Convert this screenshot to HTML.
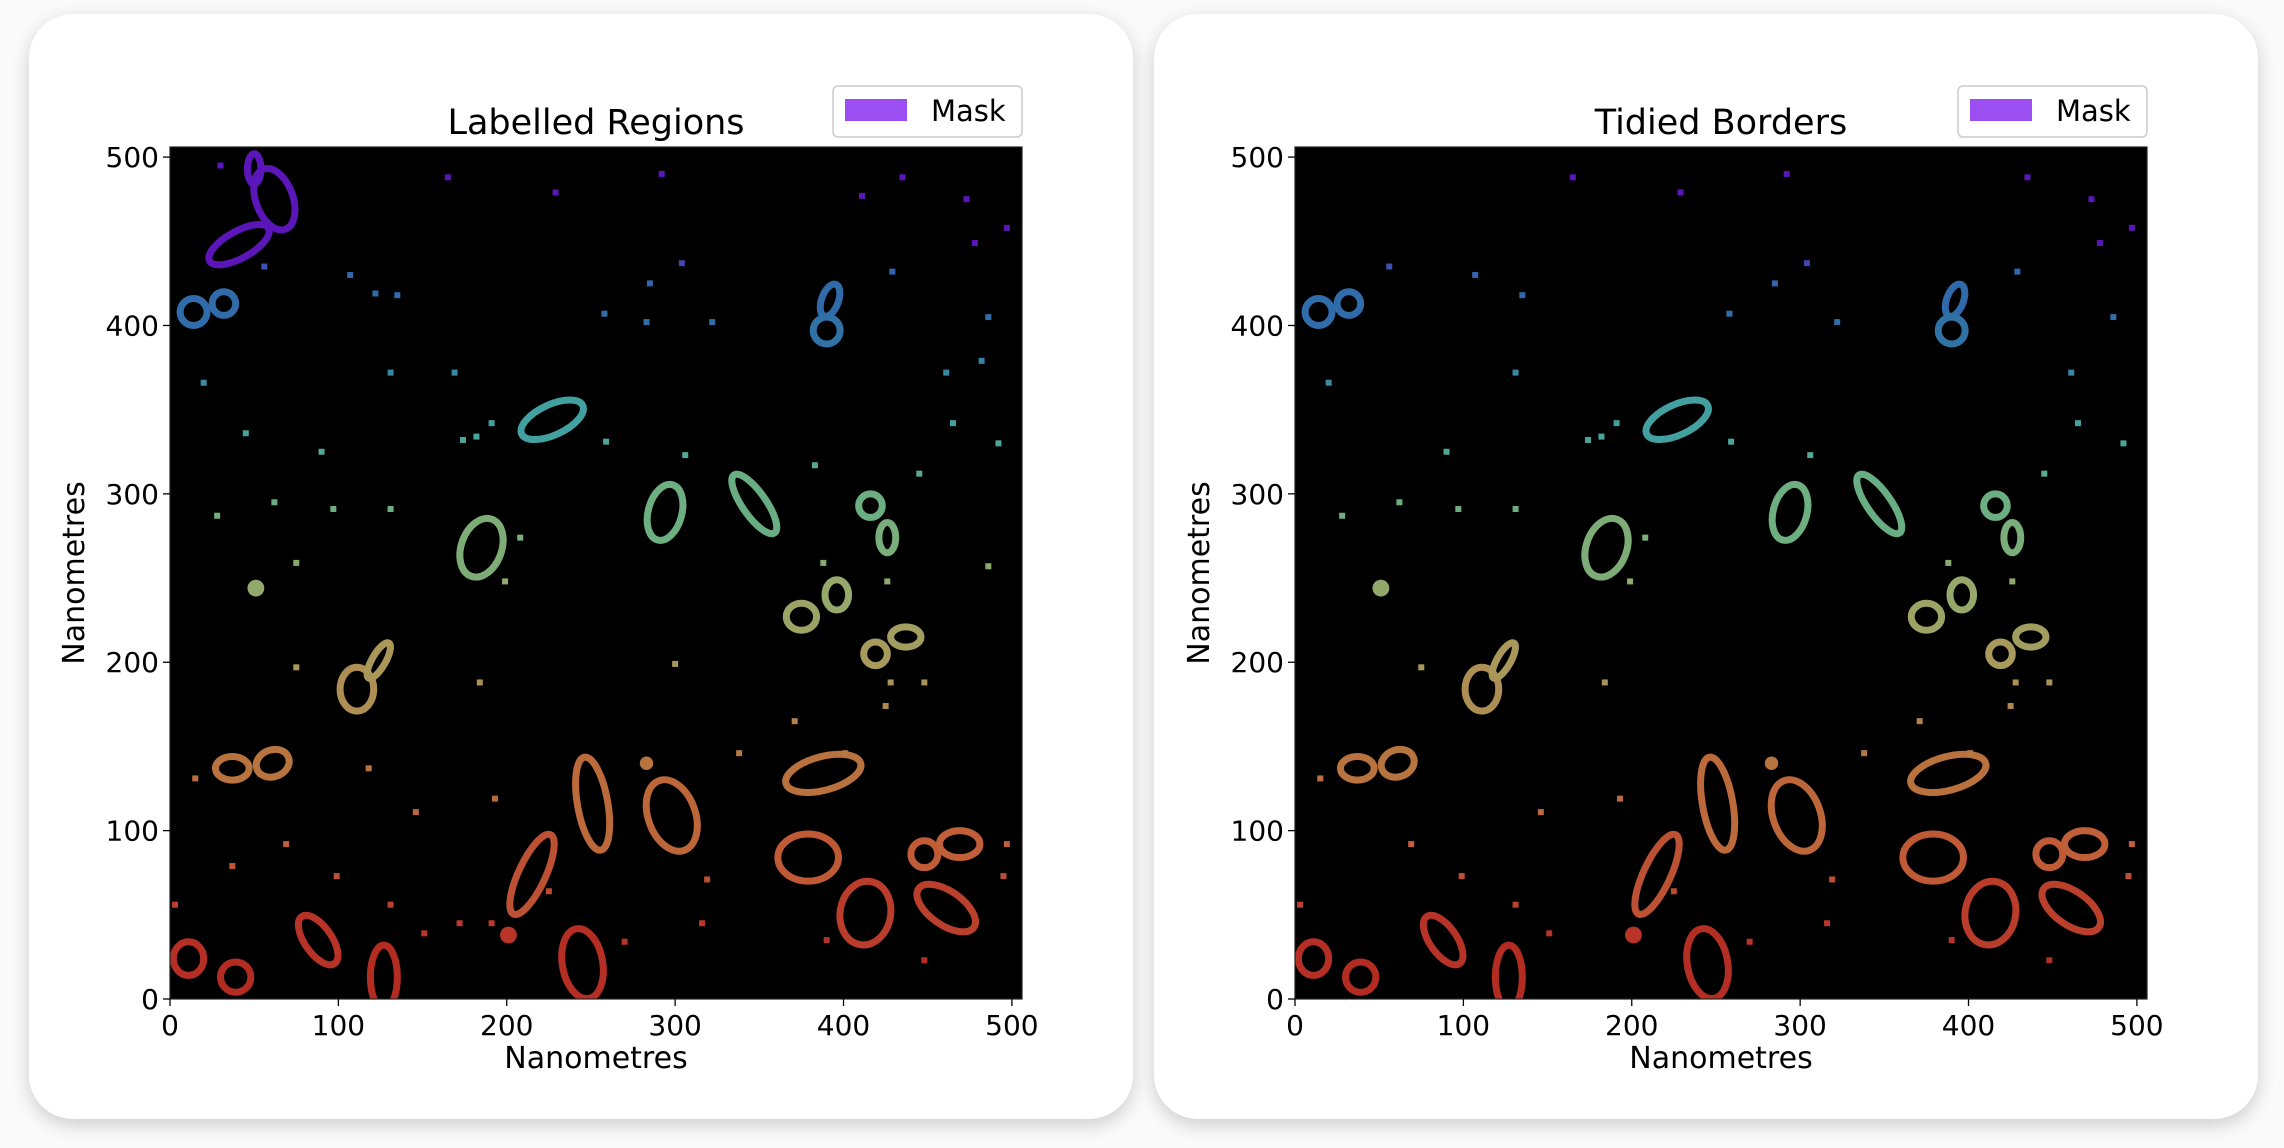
<!DOCTYPE html>
<html><head><meta charset="utf-8"><style>
html,body{margin:0;padding:0;background:#fafafa;width:2284px;height:1148px;overflow:hidden;font-family:"DejaVu Sans","Liberation Sans",sans-serif;}
.card{position:absolute;top:14px;width:1104px;height:1105px;background:#fff;border-radius:44px;box-shadow:0 6px 18px rgba(0,0,0,0.18);}
svg{position:absolute;left:0;top:0}
</style></head><body>
<div class="card" style="left:29px"></div>
<div class="card" style="left:1154px"></div>
<svg id="chart" width="2284" height="1148"></svg>
<script>
// ring loops: [x nm, y nm, rx nm, ry nm, rotation deg]
const loopsX=[62,41,50,14,32,392,390,227,294,347,416,426,185,375,396,419,437,111,124,37,61,251,298,388,379,448,469,215,413,461,88,11,39,127,245];
const loopsY=[475,448,493,408,413,415,397,344,289,294,293,274,268,227,240,205,215,184,201,137,140,116,109,134,84,86,92,74,51,54,35,24,13,13,21];
const loopsRX=[11,20,4,8,7,5,8,20,10,7,7,5,12,9,7,7,9,10,4,10,10,9,14,23,18,8,12,8,15,20,8,9,9,8,12];
const loopsRY=[19,8,9,8,7,10,8,9,17,21,7,9,18,8,9,7,6,13,12,7,8,28,22,10,14,8,8,26,19,10,17,10,9,19,21];
const loopsRot=[-20,-29,0,0,0,20,0,-25,15,-35,0,0,20,0,0,0,0,0,30,0,-20,-10,-20,-15,0,0,0,25,10,35,-35,0,0,0,-10];
// filled blobs
const blobsX=[51,201,283];
const blobsY=[244,38,140];
const blobsR=[5,5,4];
// small specks
const specksX=[30,165,229,292,435,411,473,497,56,107,122,135,304,285,258,283,322,429,478,486,482,461,465,20,131,169,191,259,492,62,45,90,174,182,306,383,445,28,97,131,75,199,208,388,426,486,428,448,75,184,300,371,425,401,338,118,15,193,146,69,37,99,319,316,151,191,225,448,270,390,172,497,495,3,131];
const specksY=[495,488,479,490,488,477,475,458,435,430,419,418,437,425,407,402,402,432,449,405,379,372,342,366,372,372,342,331,330,295,336,325,332,334,323,317,312,287,291,291,259,248,274,259,248,257,188,188,197,188,199,165,174,146,146,137,131,119,111,92,79,73,71,45,39,45,64,23,34,35,45,92,73,56,56];
const xTicks=[0,100,200,300,400,500];
const yTicks=[0,100,200,300,400,500];
const NS='http://www.w3.org/2000/svg';
const svg=document.getElementById('chart');
const stops=[[0,[176,40,30]],[40,[184,52,40]],[90,[192,94,56]],[140,[184,116,62]],[200,[169,152,90]],[240,[150,168,106]],[290,[108,175,128]],[340,[68,163,160]],[400,[47,111,166]],[432,[50,100,176]],[445,[90,22,184]],[510,[90,22,184]]];
function col(v){for(let i=0;i<stops.length-1;i++){const a=stops[i],b=stops[i+1];if(v<=b[0]){const t=Math.max(0,(v-a[0])/(b[0]-a[0]));return 'rgb('+a[1].map((c,k)=>Math.round(c+(b[1][k]-c)*t)).join(',')+')';}}return 'rgb(90,22,184)';}
function mk(tag,attrs,parent){const e=document.createElementNS(NS,tag);for(const k in attrs)e.setAttribute(k,attrs[k]);(parent||svg).appendChild(e);return e;}
function panel(L,title,tidy,pname){
  const T=147,S=852/506;
  const x=v=>L+v*S, y=v=>T+852-v*S;
  const g=mk('g',{});
  
  
  const bg=mk('rect',{x:L,y:T,width:852,height:852,fill:'#000'},g);
  
  
  const cp='clip'+L;const d=mk('clipPath',{id:cp},g);mk('rect',{x:L,y:T,width:852,height:852},d);
  const marks=mk('g',{'clip-path':'url(#'+cp+')'},g);
  for(let i=0;i<loopsX.length;i++){
    if(tidy&&i<3)continue;
    const e=mk('ellipse',{cx:x(loopsX[i]),cy:y(loopsY[i]),rx:loopsRX[i]*S,ry:loopsRY[i]*S,transform:'rotate('+loopsRot[i]+' '+x(loopsX[i])+' '+y(loopsY[i])+')',fill:'none',stroke:col(loopsY[i]),'stroke-width':7},marks);
    
    
  }
  for(let i=0;i<blobsX.length;i++){
    const e=mk('circle',{cx:x(blobsX[i]),cy:y(blobsY[i]),r:blobsR[i]*S,fill:col(blobsY[i])},marks);
    
    
  }
  for(let i=0;i<specksX.length;i++){
    if(tidy&&i%5===0)continue;
    const e=mk('rect',{x:x(specksX[i])-3,y:y(specksY[i])-3,width:6,height:6,fill:col(specksY[i])},marks);
    
    
  }
  mk('rect',{x:L,y:T,width:852,height:852,fill:'none',stroke:'#222','stroke-width':1.2},g);
  xTicks.forEach(v=>{mk('line',{x1:x(v),x2:x(v),y1:T+852,y2:T+859,stroke:'#000','stroke-width':1.3},g);
    const t=mk('text',{x:x(v),y:1035,'text-anchor':'middle','font-size':28,fill:'#000'},g);t.textContent=v;
    
    });
  yTicks.forEach(v=>{mk('line',{x1:L-7,x2:L,y1:y(v),y2:y(v),stroke:'#000','stroke-width':1.3},g);
    const t=mk('text',{x:L-11,y:y(v)+10,'text-anchor':'end','font-size':28,fill:'#000'},g);t.textContent=v;
    
    });
  const xl=mk('text',{x:L+426,y:1068,'text-anchor':'middle','font-size':30,fill:'#000'},g);xl.textContent='Nanometres';
  
  
  const yl=mk('text',{x:0,y:0,transform:'translate('+(L-86)+',573) rotate(-90)','text-anchor':'middle','font-size':30,fill:'#000'},g);yl.textContent='Nanometres';
  
  
  const tt=mk('text',{x:L+426,y:134,'text-anchor':'middle','font-size':35,fill:'#000'},g);tt.textContent=title;
  
  
  const lg=mk('g',{},g);
  
  
  mk('rect',{x:L+663,y:86,width:189,height:51,rx:5,fill:'#fff',stroke:'#ccc','stroke-width':1.5},lg);
  const p=mk('rect',{x:L+675,y:99,width:62,height:22,fill:'#9b4ff2'},lg);
  
  
  const lt=mk('text',{x:L+761,y:121,'font-size':29,fill:'#000'},lg);lt.textContent='Mask';
  
  
}
panel(170,'Labelled Regions',false,'labelled-regions-panel');
panel(1295,'Tidied Borders',true,'tidied-borders-panel');
</script>
</body></html>
